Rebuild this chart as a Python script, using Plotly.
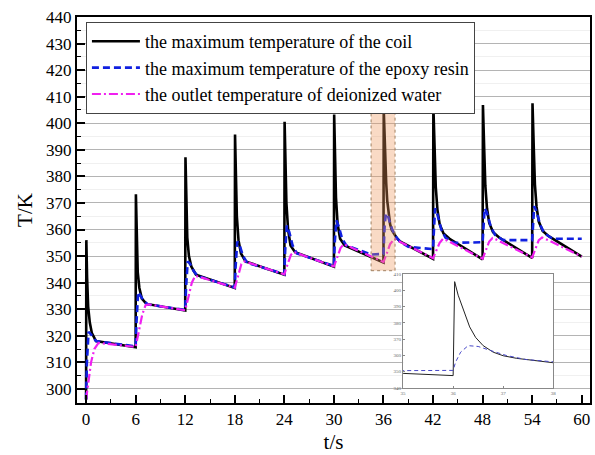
import plotly.graph_objects as go

# ---- data ----
coil_t = [0, 0.03, 0.12, 0.25, 0.45, 0.7, 1.2,
          6, 6.03, 6.12, 6.25, 6.45, 6.75, 7.3,
          12, 12.03, 12.12, 12.25, 12.45, 12.75, 13.3,
          18, 18.03, 18.12, 18.25, 18.45, 18.75, 19.3,
          24, 24.03, 24.12, 24.25, 24.45, 24.75, 25.3,
          30, 30.03, 30.12, 30.25, 30.45, 30.75, 31.3,
          36, 36.03, 36.1, 36.2, 36.33, 36.45, 36.6, 36.8, 37.0, 37.27, 37.6, 38,
          42, 42.04, 42.2, 42.33, 42.53, 42.8, 43.27, 44,
          48, 48.04, 48.2, 48.33, 48.53, 48.8, 49.27, 50,
          54, 54.04, 54.2, 54.33, 54.53, 54.8, 55.27, 56, 60]
coil_T = [296, 356, 342, 331, 325, 321, 318,
          315.7, 373.3, 356, 344, 338, 334, 332,
          329.5, 387.2, 370, 357, 350, 346, 343,
          338, 395.8, 378, 365, 356, 351, 348,
          343, 400.6, 383, 370, 360, 354, 351.5,
          346, 403.3, 386, 372, 362, 356.5, 354,
          347.6, 405.3, 397, 388, 377.5, 371, 366, 362, 359.8, 358.2, 356.8, 355.5,
          349, 406.3, 389, 376, 367.5, 362, 358.5, 356.5,
          348.8, 406.9, 389.5, 376.5, 368, 362.5, 359, 357,
          349.3, 407.5, 390, 377, 368.5, 363, 359.5, 357.5, 349.8]

epoxy_t = [0, 0.1, 0.3, 0.6, 1.2,
           6, 6.1, 6.3, 6.6, 7.0, 7.5,
           12, 12.1, 12.3, 12.6, 13.0, 13.5,
           18, 18.1, 18.3, 18.6, 19.0, 19.5,
           24, 24.1, 24.3, 24.6, 25.0, 25.5,
           30, 30.1, 30.3, 30.6, 31.0, 31.5, 34.5,
           36, 36.05, 36.15, 36.3, 36.5, 36.75, 37.06, 37.45, 38, 39,
           42, 42.08, 42.25, 42.5, 43.0, 43.5, 44.5,
           48, 48.08, 48.25, 48.5, 49.0, 49.5, 50.5,
           54, 54.08, 54.25, 54.5, 55.0, 55.5, 56.5, 60]
epoxy_T = [296, 310, 321.5, 320.5, 318,
           316, 325, 336.5, 335, 333, 331.8,
           329.7, 338, 348, 347, 344.5, 342.5,
           338.2, 346, 355.5, 354, 350, 347.5,
           343.2, 352, 361.5, 359, 354, 351,
           346.3, 355, 363.5, 361, 356.5, 354, 350.6,
           350.8, 356, 362, 366, 365.5, 363, 360, 357.5, 355.5, 353.5,
           352.6, 358, 368, 366, 360, 357, 355,
           355.2, 359, 368, 366.5, 361, 358, 356,
           356, 360, 368.8, 367, 361.5, 358.5, 356.5, 356.5]

water_t = [0, 0.3, 0.6, 1.0, 1.5,
           6, 6.4, 6.8, 7.2, 7.6,
           12, 12.4, 12.8, 13.2, 13.6,
           18, 18.4, 18.8, 19.2,
           24, 24.4, 24.8, 25.2,
           30, 30.4, 30.8, 31.2,
           36, 36.4, 36.8, 37.3, 37.6,
           42, 42.4, 42.8, 43.2, 43.6,
           48, 48.4, 48.8, 49.2, 49.6,
           54, 54.4, 54.8, 55.2, 55.6, 60]
water_T = [296, 303, 310, 315, 317.3,
           315.8, 322, 328, 331.5, 331.8,
           329.6, 335, 340, 342.5, 342.3,
           338.1, 343, 347, 348,
           343.1, 347, 350.5, 351.5,
           346.1, 349.5, 353, 354.5,
           347.8, 351, 354.5, 356.5, 356,
           349.2, 352, 355, 356.5, 356,
           349, 352.5, 355.5, 356.8, 356.3,
           349.5, 353, 356, 357, 356.5, 349.8]

x_ticks = [0, 6, 12, 18, 24, 30, 36, 42, 48, 54, 60]
y_ticks = [300, 310, 320, 330, 340, 350, 360, 370, 380, 390, 400, 410, 420, 430, 440]
inset_x_ticks = [35, 36, 37, 38]
inset_y_ticks = [340, 350, 360, 370, 380, 390, 400, 410]

names = ["the maximum temperature of the coil",
         "the maximum temperature of the epoxy resin",
         "the outlet temperature of deionized water"]

FONT = "Liberation Serif, Times New Roman, serif"

fig = go.Figure()
fig.add_trace(go.Scatter(x=coil_t, y=coil_T, mode="lines", name=names[0],
                         line=dict(color="black", width=2.6)))
fig.add_trace(go.Scatter(x=epoxy_t, y=epoxy_T, mode="lines", name=names[1],
                         line=dict(color="#1020e0", width=2.6, dash="7px,4px")))
fig.add_trace(go.Scatter(x=water_t, y=water_T, mode="lines", name=names[2],
                         line=dict(color="#f020f0", width=2.2, dash="9px,3px,2px,3px")))

# inset (zoom of 35..38 s)
fig.add_trace(go.Scatter(x=coil_t, y=coil_T, mode="lines", xaxis="x2", yaxis="y2",
                         showlegend=False, line=dict(color="#222222", width=1)))
fig.add_trace(go.Scatter(x=epoxy_t, y=epoxy_T, mode="lines", xaxis="x2", yaxis="y2",
                         showlegend=False, line=dict(color="#4848c8", width=1, dash="4px,3px")))

fig.add_shape(type="rect", xref="x", yref="y", x0=34.5, x1=37.4, y0=344.5, y1=408,
              fillcolor="rgba(238,150,90,0.35)", line=dict(color="#a08060", width=1, dash="dot"),
              layer="above")

fig.update_layout(
    width=595, height=455,
    margin=dict(l=77, r=2, t=17, b=52),
    paper_bgcolor="white", plot_bgcolor="white",
    font=dict(family=FONT, size=17, color="black"),
    legend=dict(x=0.0174, y=0.987, xanchor="left", yanchor="top",
                bgcolor="white", bordercolor="#444444", borderwidth=1,
                font=dict(family=FONT, size=18), tracegroupgap=0,
                itemwidth=48),
    xaxis=dict(range=[-1.1, 61], tickvals=x_ticks, ticks="inside", ticklen=8, tickwidth=1.5,
               tickcolor="black", showline=True, linecolor="black", linewidth=2, mirror=True,
               showgrid=False, zeroline=False,
               minor=dict(dtick=3, tick0=0, ticks="inside", ticklen=4, tickcolor="black", tickwidth=1.2),
               title=dict(text="t/s", font=dict(size=21, family=FONT), standoff=6)),
    yaxis=dict(range=[294.7, 440], tickvals=y_ticks, ticks="inside", ticklen=8, tickwidth=1.5,
               tickcolor="black", showline=True, linecolor="black", linewidth=2, mirror=True,
               showgrid=True, gridcolor="#b4b4b4", gridwidth=1, zeroline=False,
               minor=dict(dtick=5, tick0=0, ticks="inside", ticklen=4, tickcolor="black", tickwidth=1.2,
                          showgrid=True, gridcolor="#f0f0f0"),
               title=dict(text="T/K", font=dict(size=21, family=FONT), standoff=8)),
    xaxis2=dict(domain=[0.6357, 0.9283], anchor="y2", range=[35, 38], tickvals=inset_x_ticks,
                showline=True, linecolor="#888888", linewidth=1, mirror=True, showgrid=False,
                zeroline=False, ticks="inside", ticklen=2, tickcolor="#888888",
                tickfont=dict(size=5, color="#666666")),
    yaxis2=dict(domain=[0.0389, 0.3342], anchor="x2", range=[340, 410], tickvals=inset_y_ticks,
                showline=True, linecolor="#888888", linewidth=1, mirror=True, showgrid=False,
                zeroline=False, ticks="inside", ticklen=2, tickcolor="#888888",
                tickfont=dict(size=5, color="#666666")),
)

fig.write_html("out.html", config={"displayModeBar": False},
               post_script="document.body.style.margin='0';")
